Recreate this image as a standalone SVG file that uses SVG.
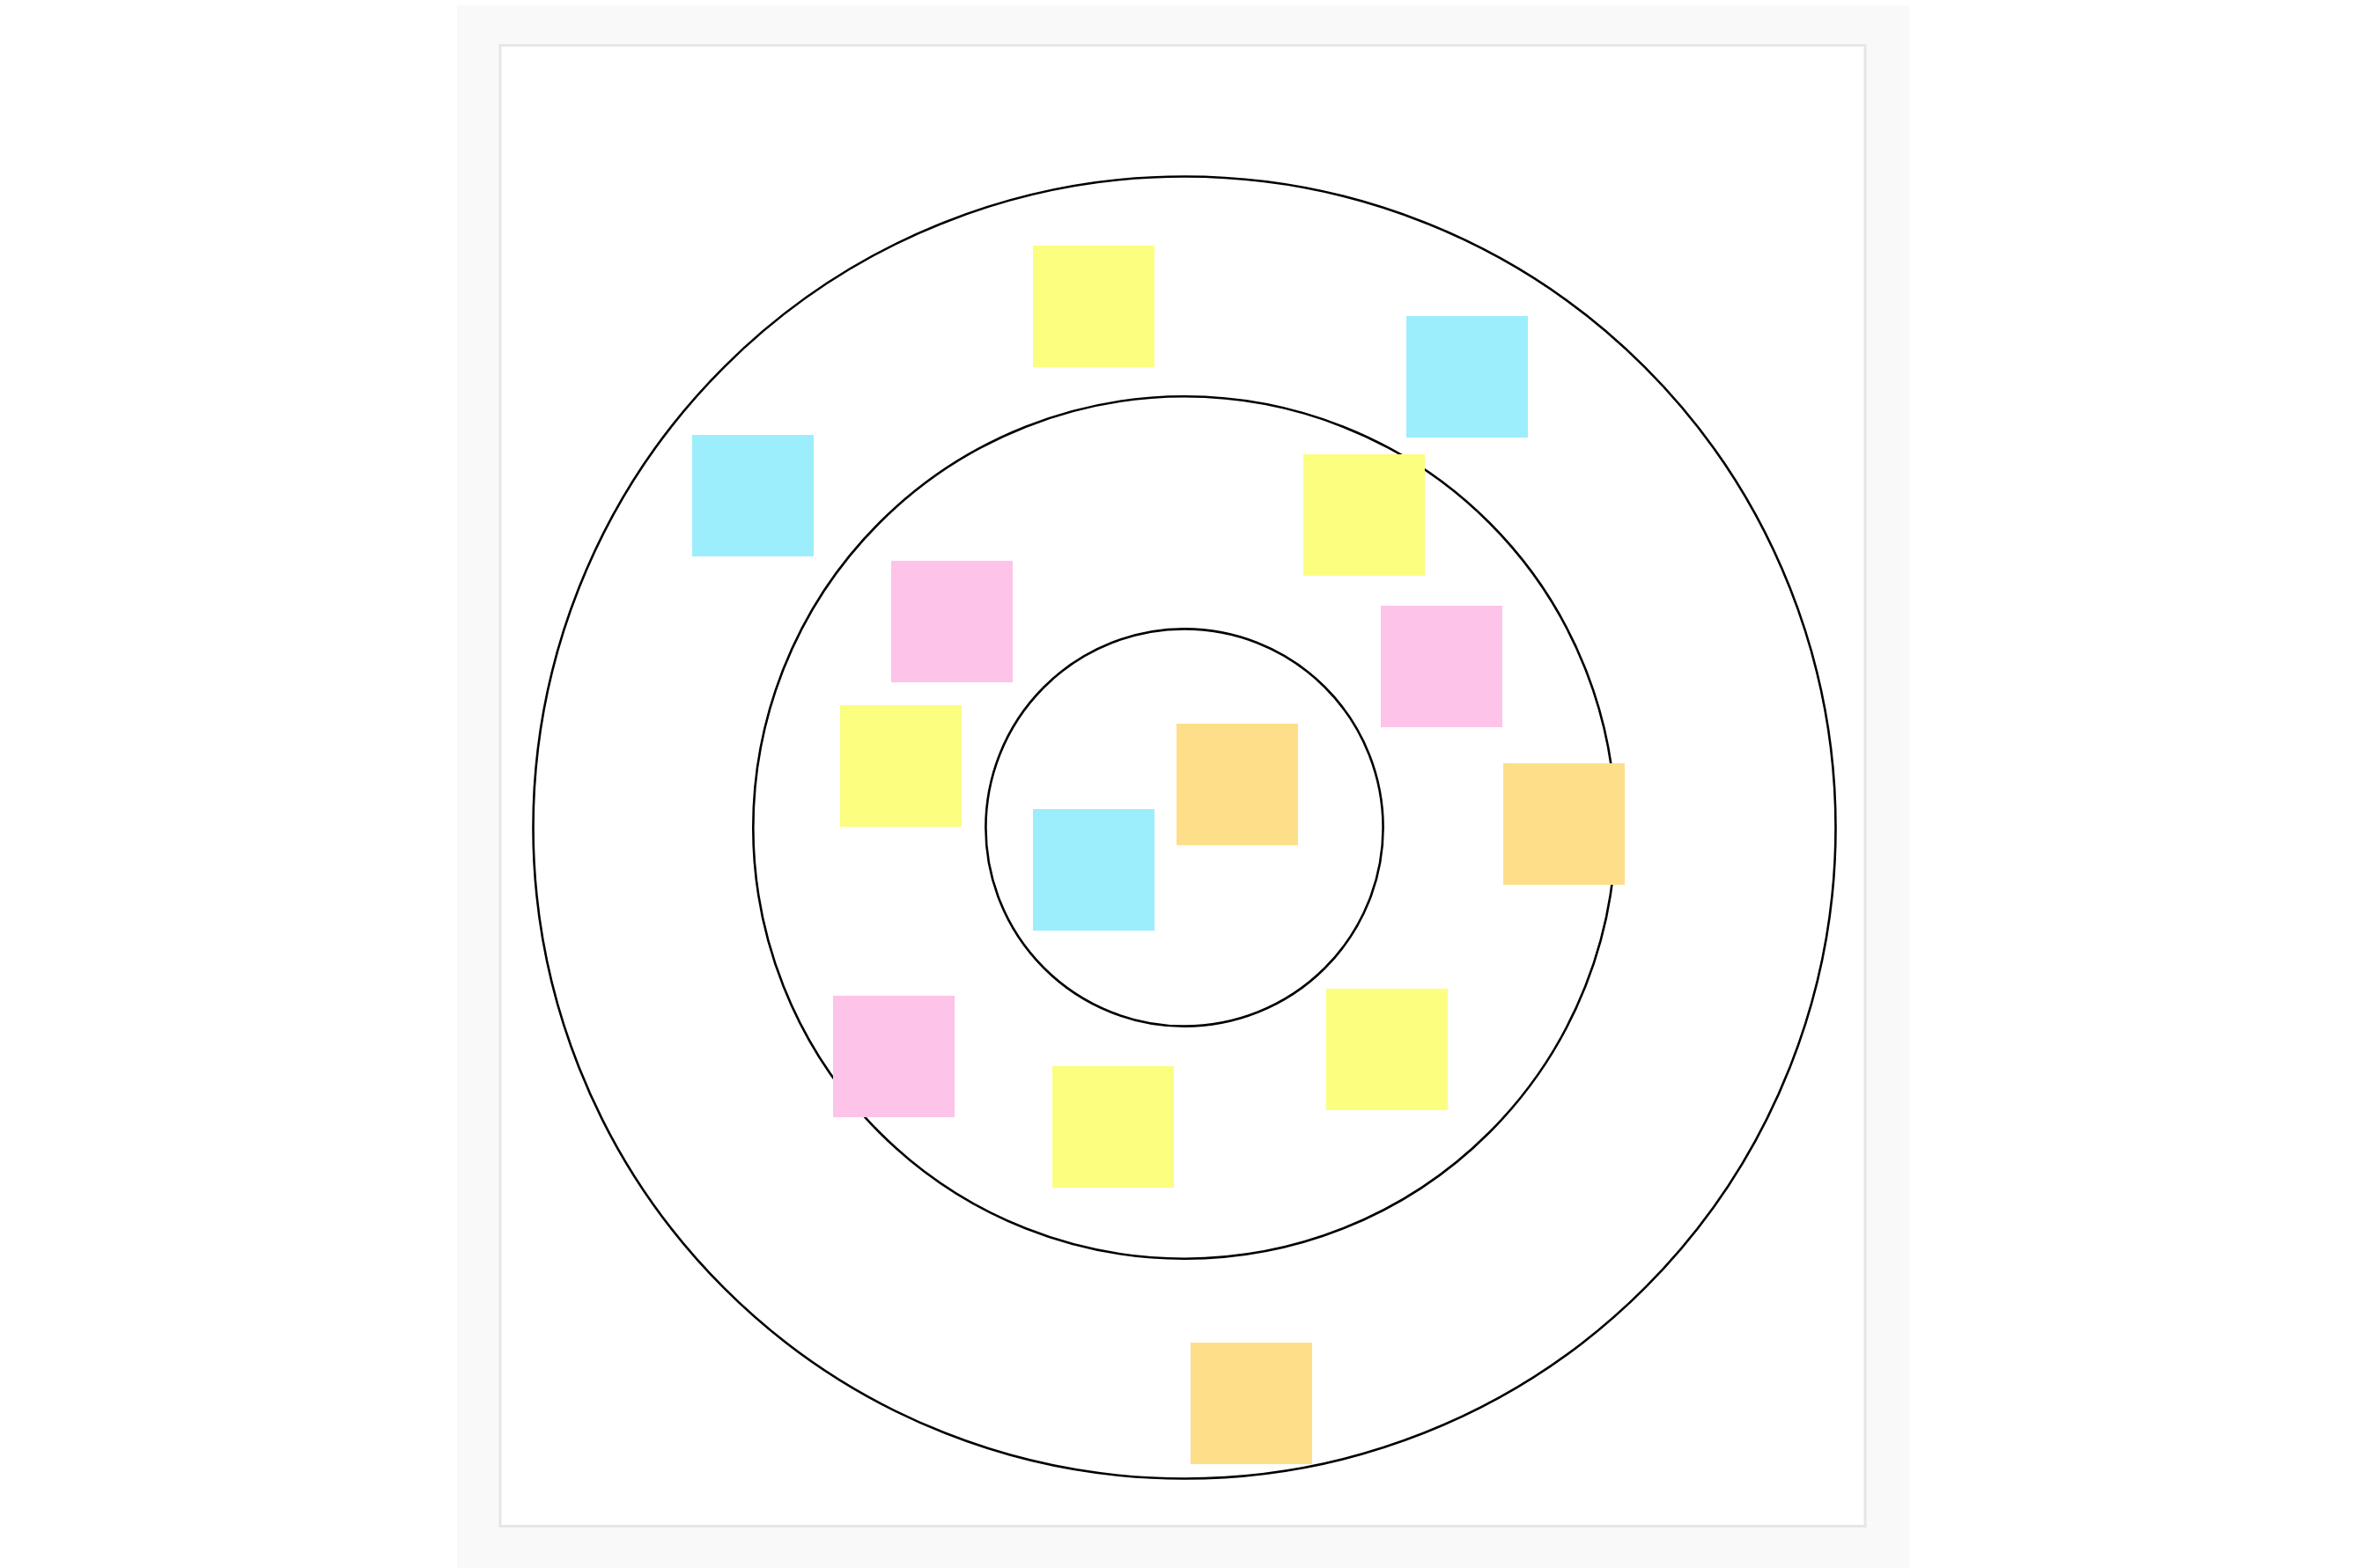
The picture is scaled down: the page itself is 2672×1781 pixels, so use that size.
<svg xmlns="http://www.w3.org/2000/svg" width="2672" height="1781" viewBox="0 0 2672 1781">
<style>
.ring{fill:none;stroke:#000;stroke-width:2.6}
.note{stroke:none}
.y{fill:#fcfe7f}
.c{fill:#9ceefd}
.p{fill:#fec3e9}
.o{fill:#fedf89}
</style>
<rect x="0" y="0" width="2672" height="1781" fill="#ffffff"/>
<rect x="519" y="6" width="1649" height="1775" fill="#f9f9f9"/>
<rect x="568" y="51.5" width="1550" height="1682" fill="#ffffff" stroke="#e6e6e6" stroke-width="3"/>
<g id="rings">
<circle id="ring-outer" class="ring" cx="1345" cy="940" r="739.5"/>
<circle id="ring-middle" class="ring" cx="1345" cy="940" r="489.7"/>
<circle id="ring-inner" class="ring" cx="1345" cy="940" r="225.6"/>
</g>
<g id="connectors"></g>
<g id="note1"><rect class="note y" x="1173" y="279" width="138" height="138"/></g>
<g id="note2"><rect class="note c" x="1597" y="359" width="138" height="138"/></g>
<g id="note3"><rect class="note c" x="786" y="494" width="138" height="138"/></g>
<g id="note4"><rect class="note y" x="1480" y="516" width="138" height="138"/></g>
<g id="note5"><rect class="note p" x="1012" y="637" width="138" height="138"/></g>
<g id="note6"><rect class="note p" x="1568" y="688" width="138" height="138"/></g>
<g id="note7"><rect class="note y" x="954" y="801" width="138" height="138"/></g>
<g id="note8"><rect class="note o" x="1336" y="822" width="138" height="138"/></g>
<g id="note9"><rect class="note o" x="1707" y="867" width="138" height="138"/></g>
<g id="note10"><rect class="note c" x="1173" y="919" width="138" height="138"/></g>
<g id="note11"><rect class="note y" x="1506" y="1123" width="138" height="138"/></g>
<g id="note12"><rect class="note p" x="946" y="1131" width="138" height="138"/></g>
<g id="note13"><rect class="note y" x="1195" y="1211" width="138" height="138"/></g>
<g id="note14"><rect class="note o" x="1352" y="1525" width="138" height="138"/></g>
</svg>
